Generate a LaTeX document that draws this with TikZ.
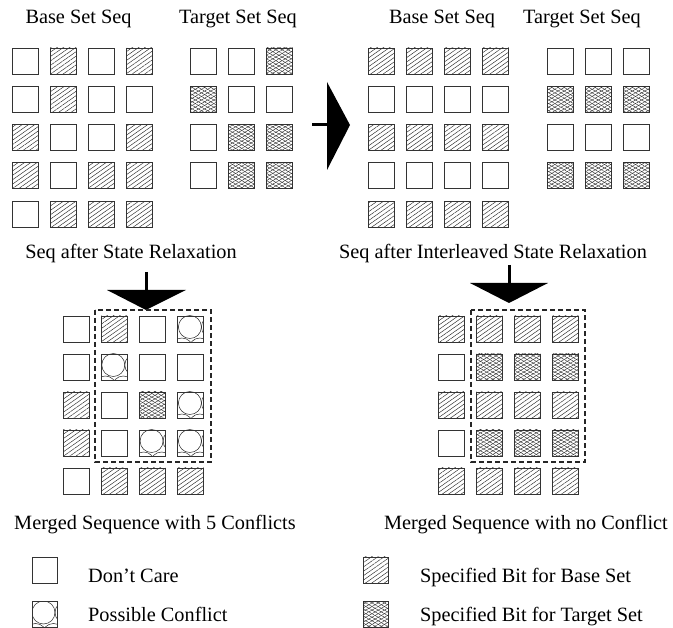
\documentclass[tikz,border=0pt]{standalone}
\usepackage{fontspec}
\setmainfont{Liberation Serif}
\usetikzlibrary{patterns.meta}
\begin{document}
\begin{tikzpicture}[x=1pt,y=-1pt,
  cell/.style={draw=black!80, line width=0.9pt, minimum width=26pt, minimum height=26pt, inner sep=0pt, outer sep=0pt},
  stD/.style={cell},
  stB/.style={cell, pattern={Lines[angle=35,distance=3.6pt,line width=0.45pt]}, pattern color=black!85},
  stT/.style={cell, pattern={Lines[angle=30,distance=3.1pt,line width=0.4pt]}, pattern color=black!85,
     postaction={pattern={Lines[angle=-30,distance=3.1pt,line width=0.4pt]}, pattern color=black!85}},
  stC/.style={cell, path picture={
     \draw[line width=0.5pt,black!85] ([shift={(-1pt,2pt)}]path picture bounding box.center) circle[radius=11.5pt];
     \draw[line width=0.5pt,black!85] ([shift={(-9pt,-20pt)}]path picture bounding box.center) circle[radius=11pt];
     \draw[line width=0.5pt,black!85] ([shift={(9pt,-20pt)}]path picture bounding box.center) circle[radius=11pt];
     \draw[line width=0.5pt,black!85] ([shift={(21.5pt,2pt)}]path picture bounding box.center) circle[radius=11pt];
  }},
  lbl/.style={font=\fontsize{20.3}{24}\selectfont, inner sep=0pt, anchor=base},
  lgd/.style={font=\fontsize{20.3}{24}\selectfont, inner sep=0pt, anchor=base west},
  frame/.style={draw=black!85, line width=1.2pt, dash pattern=on 5pt off 3pt},
  bigarrow/.style={fill=black},
  stem/.style={line width=3pt, black}
]
\useasboundingbox (0,0) rectangle (673,628);

% titles
\node[lbl] (tBL) at (78.5,24) {Base Set Seq};
\node[lbl] (tTL) at (238,24) {Target Set Seq};
\node[lbl] (tBR) at (442,24) {Base Set Seq};
\node[lbl] (tTR) at (582,24) {Target Set Seq};

% left base
\foreach \row [count=\r] in {{stD,stB,stD,stB},{stD,stB,stD,stD},{stB,stD,stD,stB},{stB,stD,stB,stB},{stD,stB,stB,stB}} {
  \foreach \t [count=\c] in \row {
    \node[\t] (lb-\r-\c) at ({25+38.3*(\c-1)},{61+38.3*(\r-1)}) {};
  }
}
% left target
\foreach \row [count=\r] in {{stD,stD,stT},{stT,stD,stD},{stD,stT,stT},{stD,stT,stT}} {
  \foreach \t [count=\c] in \row {
    \node[\t] (lt-\r-\c) at ({203+38.3*(\c-1)},{61+38.3*(\r-1)}) {};
  }
}
% right base
\foreach \row [count=\r] in {{stB,stB,stB,stB},{stD,stD,stD,stD},{stB,stB,stB,stB},{stD,stD,stD,stD},{stB,stB,stB,stB}} {
  \foreach \t [count=\c] in \row {
    \node[\t] (rb-\r-\c) at ({381+38.3*(\c-1)},{61+38.3*(\r-1)}) {};
  }
}
% right target
\foreach \row [count=\r] in {{stD,stD,stD},{stT,stT,stT},{stD,stD,stD},{stT,stT,stT}} {
  \foreach \t [count=\c] in \row {
    \node[\t] (rt-\r-\c) at ({560+38.3*(\c-1)},{61+38.3*(\r-1)}) {};
  }
}

% right arrow
\draw[stem] (312,125) -- (328,125);
\fill[bigarrow] (327,82) -- (350,125) -- (327,170) -- cycle;

% middle labels
\node[lbl] (sL) at (131,259) {Seq after State Relaxation};
\node[lbl] (sR) at (493,259) {Seq after Interleaved State Relaxation};

% down arrows
\draw[stem] (146,272) -- (146,291);
\fill[bigarrow] (107,290) -- (186,290) -- (146,310) -- cycle;
\draw[stem] (509,265) -- (509,284);
\fill[bigarrow] (470,283) -- (548,283) -- (509,303) -- cycle;

% merged left
\foreach \row [count=\r] in {{stD,stB,stD,stC},{stD,stC,stD,stD},{stB,stD,stT,stC},{stB,stD,stC,stC},{stD,stB,stB,stB}} {
  \foreach \t [count=\c] in \row {
    \node[\t] (ml-\r-\c) at ({76+38.3*(\c-1)},{329+38*(\r-1)}) {};
  }
}
% merged right
\foreach \row [count=\r] in {{stB,stB,stB,stB},{stD,stT,stT,stT},{stB,stB,stB,stB},{stD,stT,stT,stT},{stB,stB,stB,stB}} {
  \foreach \t [count=\c] in \row {
    \node[\t] (mr-\r-\c) at ({451+38.3*(\c-1)},{329+38*(\r-1)}) {};
  }
}
\draw[frame] (95,310) rectangle (211,462);
\draw[frame] (471,310) rectangle (585,462);

\node[lbl] (mL) at (155,530) {Merged Sequence with 5 Conflicts};
\node[lbl] (mR) at (526,530) {Merged Sequence with no Conflict};

% legend
\node[stD, minimum width=25pt] (kD) at (44.5,570) {};
\node[stC, minimum width=25pt] (kC) at (44.5,614.5) {};
\node[stB, minimum width=25pt] (kB) at (375.5,570) {};
\node[stT, minimum width=25pt] (kT) at (375.5,614.5) {};
\node[lgd] (xD) at (88,583) {Don’t Care};
\node[lgd] (xC) at (88,621) {Possible Conflict};
\node[lgd] (xB) at (420,583) {Specified Bit for Base Set};
\node[lgd] (xT) at (420,621) {Specified Bit for Target Set};
\end{tikzpicture}
\end{document}
